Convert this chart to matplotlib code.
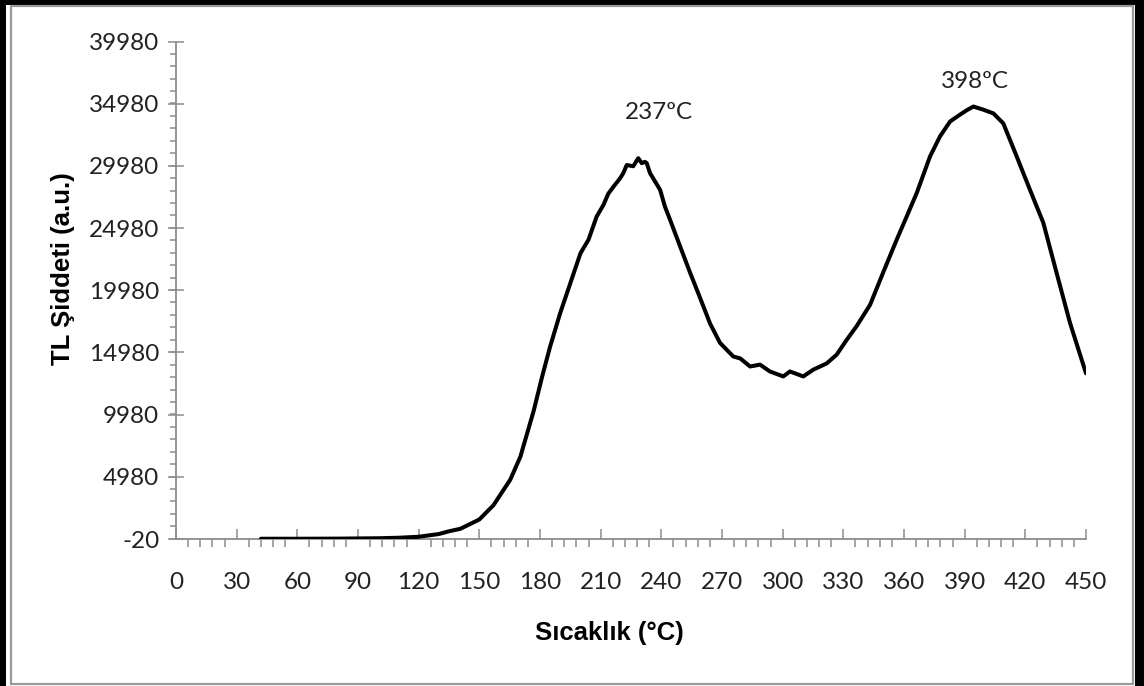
import matplotlib
matplotlib.use("Agg")
import matplotlib.pyplot as plt
from matplotlib.patches import Rectangle
from matplotlib.ticker import MultipleLocator, FixedLocator

# Glow curve: temperature (°C) vs. TL intensity (a.u.)
temperature = [42, 60, 80, 100, 110, 120, 130, 135, 140.6, 145, 150, 157, 165.3,
               170.3, 176.9, 181, 185, 190, 195, 200, 204, 208, 211.4, 213.8,
               216.3, 219.6, 221.2, 222.9, 226.1, 228.6, 230.3, 231.9, 232.8,
               234.4, 239.4, 241.8, 244.3, 249.3, 254.2, 259.2, 264.1, 269,
               275.6, 279, 283.9, 288.8, 293.7, 300.3, 303.6, 310.2, 315.2,
               321.8, 326.7, 331.7, 336.6, 343.2, 349.8, 356.4, 361.3, 366.3,
               372.9, 377.8, 382.8, 387.7, 391, 394.3, 399.2, 404.2, 409.1,
               415.7, 422.3, 428.9, 435.5, 442.1, 450]
intensity = [0, 0, 10, 40, 80, 160, 380, 600, 800, 1150, 1550, 2700, 4750,
             6600, 10300, 13000, 15450, 18150, 20550, 22950, 24050, 25900, 26850,
             27750, 28300, 28980, 29400, 30050, 29950, 30600, 30200, 30300, 30200,
             29400, 28050, 26700, 25650, 23500, 21400, 19350, 17300, 15750,
             14650, 14500, 13850, 14000, 13450, 13050, 13450, 13050, 13600,
             14100, 14800, 16000, 17100, 18800, 21450, 24050, 25900, 27800,
             30750, 32350, 33550, 34100, 34450, 34750, 34500, 34200, 33400,
             30750, 28050, 25400, 21350, 17350, 13300]

y_ticks = [-20, 4980, 9980, 14980, 19980, 24980, 29980, 34980, 39980]
x_ticks = list(range(0, 451, 30))

peak_labels = ["237ºC", "398ºC"]
peak_label_pos = [(239, 34300), (395, 36800)]

W, H = 1144, 686
fig = plt.figure(figsize=(W / 100, H / 100), dpi=100, facecolor="black")

def px_rect(x0, y0, x1, y1, **kw):
    # rectangle given in pixel coordinates measured from the top-left corner
    return Rectangle((x0 / W, 1 - y1 / H), (x1 - x0) / W, (y1 - y0) / H,
                     transform=fig.transFigure, **kw)

fig.patches.append(px_rect(6, 5, 1135, 686, facecolor="white", edgecolor="none", zorder=-3))
fig.patches.append(px_rect(11, 6, 1133, 684, facecolor="white", edgecolor="#999999",
                           linewidth=1.6, zorder=-2))

left, right = 176 / W, 1086 / W
bottom, top = 1 - 539 / H, 1 - 41.5 / H
ax = fig.add_axes([left, bottom, right - left, top - bottom])
ax.set_facecolor("none")

tick_font = ["Lato", "DejaVu Sans"]
label_font = ["Liberation Sans", "DejaVu Sans"]

ax.plot(temperature, intensity, color="black", linewidth=2.9,
        solid_joinstyle="round", solid_capstyle="round", zorder=3)

ax.set_xlim(0, 450)
ax.set_ylim(-20, 39980)

for s in ("top", "right"):
    ax.spines[s].set_visible(False)
for s in ("left", "bottom"):
    ax.spines[s].set_color("#8c8c8c")
    ax.spines[s].set_linewidth(1.3)

ax.yaxis.set_major_locator(FixedLocator(y_ticks))
ax.yaxis.set_minor_locator(MultipleLocator(1000))
ax.xaxis.set_major_locator(FixedLocator(x_ticks))
ax.xaxis.set_minor_locator(MultipleLocator(6))

ax.tick_params(axis="y", which="major", direction="inout", length=12, width=1.1,
               color="#8c8c8c", pad=6)
ax.tick_params(axis="y", which="minor", direction="out", length=4.5, width=1.1,
               color="#8c8c8c")
ax.tick_params(axis="x", which="major", direction="in", length=7.5, width=1.1,
               color="#8c8c8c", pad=24)
ax.tick_params(axis="x", which="minor", direction="out", length=6, width=1.1,
               color="#8c8c8c")

ax.set_yticklabels([str(v) for v in y_ticks])
ax.set_xticklabels([str(v) for v in x_ticks])
for lbl in ax.get_xticklabels() + ax.get_yticklabels():
    lbl.set_fontfamily(tick_font)
    lbl.set_fontsize(17.5)
    lbl.set_color("#222222")

for text, (tx, ty) in zip(peak_labels, peak_label_pos):
    ax.text(tx, ty, text, ha="center", va="center", fontsize=17.5,
            family=tick_font, color="#222222")

fig.text(535 / W, 1 - 633 / H, "Sıcaklık (°C)", ha="left", va="center",
         fontsize=18.5, fontweight="bold", family=label_font)
fig.text(63 / W, 1 - 172 / H, "TL Şiddeti (a.u.)", ha="center", va="top",
         rotation=90, fontsize=18.5, fontweight="bold", family=label_font)

fig.savefig("out.png", dpi=100, facecolor=fig.get_facecolor())
